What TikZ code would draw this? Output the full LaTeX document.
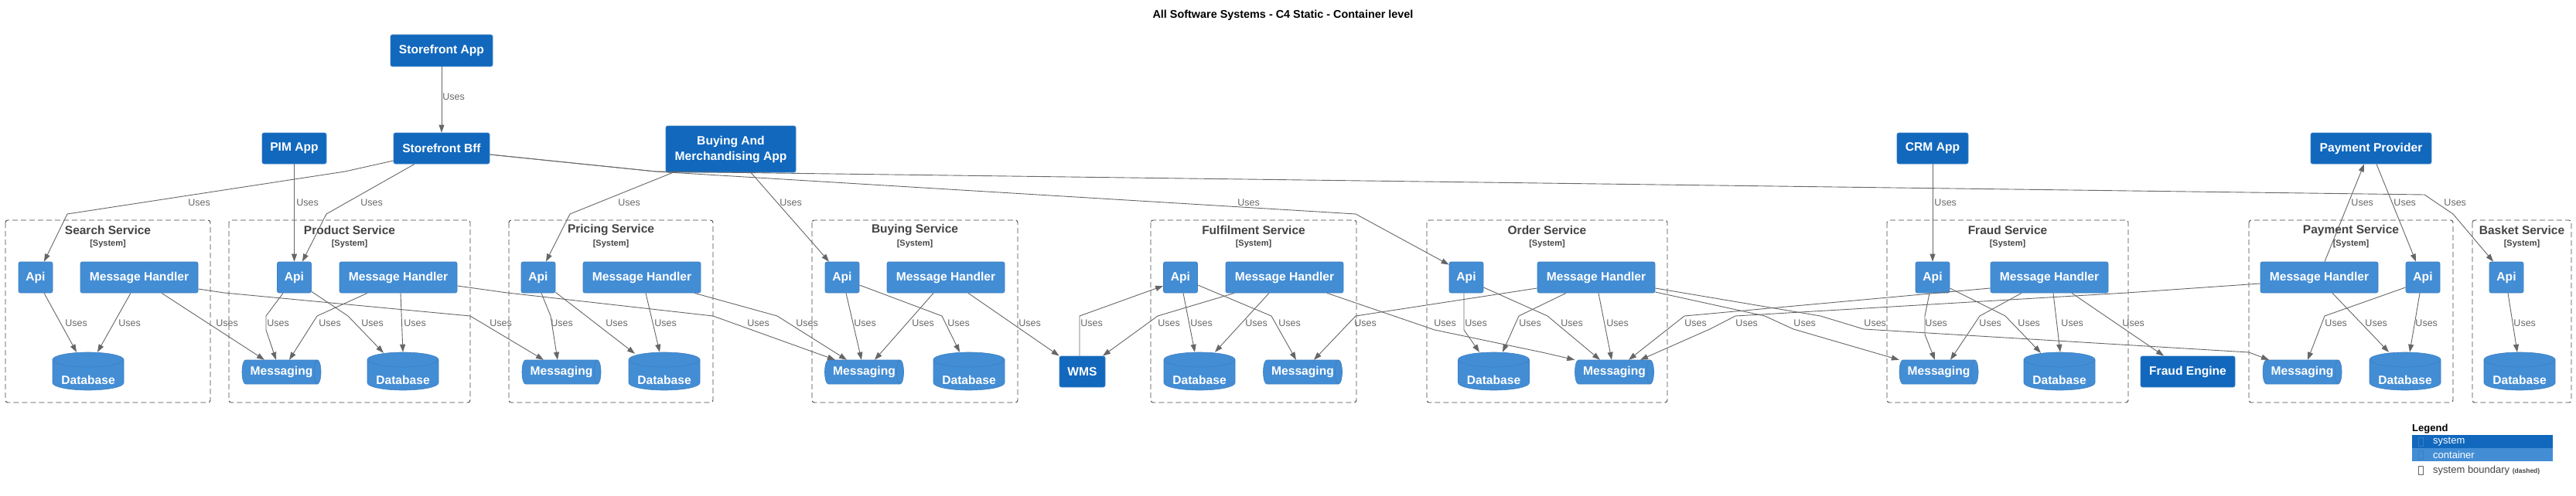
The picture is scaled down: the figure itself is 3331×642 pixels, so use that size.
\documentclass[tikz,border=0pt]{standalone}
\usepackage{fontspec}
\setmainfont{Liberation Sans}
\usetikzlibrary{arrows.meta}
\definecolor{sysblue}{HTML}{1168BD}
\definecolor{ctrblue}{HTML}{438DD5}
\definecolor{edge}{HTML}{3C7FC0}
\definecolor{wire}{HTML}{666666}
\definecolor{frame}{HTML}{444444}
\newcommand{\boxfont}{\bfseries\fontsize{15.6}{18}\selectfont}
\newcommand{\labfont}{\fontsize{12.5}{14}\selectfont}
% database cylinder, centre x
\newcommand{\dbshape}[1]{%
  \filldraw[fill=ctrblue, draw=edge, line width=0.6pt] (#1-46,465.5) -- (#1-46,495.5)
    .. controls (#1-46,500.8) and (#1-25.4,505) .. (#1,505)
    .. controls (#1+25.4,505) and (#1+46,500.8) .. (#1+46,495.5)
    -- (#1+46,465.5)
    .. controls (#1+46,460.3) and (#1+25.4,456) .. (#1,456)
    .. controls (#1-25.4,456) and (#1-46,460.3) .. (#1-46,465.5) -- cycle;
  \draw[edge, line width=0.6pt] (#1-46,465.5) .. controls (#1-46,470.7) and (#1-25.4,475) .. (#1,475)
    .. controls (#1+25.4,475) and (#1+46,470.7) .. (#1+46,465.5);
}
% message queue, centre x
\newcommand{\mqshape}[1]{%
  \filldraw[fill=ctrblue, draw=edge, line width=0.6pt] (#1-46.5,466) -- (#1+46.5,466)
    .. controls (#1+49,466) and (#1+51,472.9) .. (#1+51,481.5)
    .. controls (#1+51,490.1) and (#1+49,497) .. (#1+46.5,497)
    -- (#1-46.5,497)
    .. controls (#1-49,497) and (#1-51,490.1) .. (#1-51,481.5)
    .. controls (#1-51,472.9) and (#1-49,466) .. (#1-46.5,466) -- cycle;
  \draw[edge, line width=0.6pt] (#1+46.5,466) .. controls (#1+44,466) and (#1+42,472.9) .. (#1+42,481.5)
    .. controls (#1+42,490.1) and (#1+44,497) .. (#1+46.5,497);
}
\tikzset{
  sys/.style={fill=sysblue, draw=edge, line width=0.8pt, rounded corners=2.5pt, text=white, font=\boxfont, inner sep=0pt, minimum height=40pt},
  ctr/.style={fill=ctrblue, draw=edge, line width=0.8pt, rounded corners=2.5pt, text=white, font=\boxfont, inner sep=0pt, minimum height=40pt},
  api/.style={ctr, minimum width=44pt},
  hdl/.style={ctr, minimum width=152pt},
  dbtxt/.style={text=white, font=\boxfont, inner sep=0pt, minimum width=92pt, minimum height=49pt, text height=34pt, text depth=0pt},
  mqtxt/.style={text=white, font=\boxfont, inner sep=0pt, minimum width=102pt, minimum height=31pt},
  bnd/.style={draw=frame, line width=0.9pt, dash pattern=on 7pt off 4pt, rounded corners=3pt},
  bttl/.style={text=frame, font=\bfseries\fontsize{15.5}{18}\selectfont, inner sep=0pt},
  bsys/.style={text=frame, font=\bfseries\fontsize{11}{13}\selectfont, inner sep=0pt},
  use/.style={draw=wire, line width=0.9pt, -{Triangle[length=10pt,width=7pt]}},
  lab/.style={text=wire, font=\labfont, anchor=west, inner sep=0pt},
  legtxt/.style={font=\fontsize{13}{15}\selectfont, anchor=west, inner sep=0pt},
}
\begin{document}
\begin{tikzpicture}[x=1pt,y=-1pt]
  \useasboundingbox (0,0) rectangle (3331,642);
  \node[font=\bfseries\fontsize{14.4}{17}\selectfont] (title) at (1659,20) {All Software Systems - C4 Static - Container level};

  % system boundaries
  \draw[bnd] (7,285) rectangle (272,521);
  \draw[bnd] (296,285) rectangle (608,521);
  \draw[bnd] (658,285) rectangle (922,521);
  \draw[bnd] (1050,285) rectangle (1316,521);
  \draw[bnd] (1488,285) rectangle (1754,521);
  \draw[bnd] (1845,285) rectangle (2156,521);
  \draw[bnd] (2440,285) rectangle (2752,521);
  \draw[bnd] (2908,285) rectangle (3172,521);
  \draw[bnd] (3197,285) rectangle (3325,521);
  \node[bttl] (searchT) at (139.5,298) {Search Service};
  \node[bsys] (searchS) at (139.5,316) {[System]};
  \node[bttl] (productT) at (452,298) {Product Service};
  \node[bsys] (productS) at (452,316) {[System]};
  \node[bttl] (pricingT) at (790,298) {Pricing Service};
  \node[bsys] (pricingS) at (790,316) {[System]};
  \node[bttl] (buyingT) at (1183,298) {Buying Service};
  \node[bsys] (buyingS) at (1183,316) {[System]};
  \node[bttl] (fulfilT) at (1621,298) {Fulfilment Service};
  \node[bsys] (fulfilS) at (1621,316) {[System]};
  \node[bttl] (orderT) at (2000.5,298) {Order Service};
  \node[bsys] (orderS) at (2000.5,316) {[System]};
  \node[bttl] (fraudT) at (2596,298) {Fraud Service};
  \node[bsys] (fraudS) at (2596,316) {[System]};
  \node[bttl] (paymentT) at (3040,298) {Payment Service};
  \node[bsys] (paymentS) at (3040,316) {[System]};
  \node[bttl] (basketT) at (3261,298) {Basket Service};
  \node[bsys] (basketS) at (3261,316) {[System]};

  % external systems
  \node[sys, minimum width=132pt, minimum height=41pt] (sfapp) at (571,65.5) {Storefront App};
  \node[sys, minimum width=83pt] (pim) at (380.5,192) {PIM App};
  \node[sys, minimum width=124pt] (bff) at (571,192) {Storefront Bff};
  \node[sys, minimum width=168pt, minimum height=60pt, align=center] (bma) at (945,193) {Buying And\\[2pt]Merchandising App};
  \node[sys, minimum width=92pt] (crm) at (2499,192) {CRM App};
  \node[sys, minimum width=156pt] (pprov) at (3066,192) {Payment Provider};
  \node[sys, minimum width=59pt] (wms) at (1399.5,481) {WMS};
  \node[sys, minimum width=122pt] (feng) at (2829,481) {Fraud Engine};

  % containers
  \node[api] (sapi) at (46,359) {Api};
  \node[hdl] (smh) at (180,359) {Message Handler};
  \dbshape{114} \node[dbtxt] (sdb) at (114,480.5) {Database};

  \node[api] (papi) at (380.5,359) {Api};
  \node[hdl] (pmh) at (515,359) {Message Handler};
  \mqshape{364} \node[mqtxt] (pmsg) at (364,481.5) {Messaging};
  \dbshape{521} \node[dbtxt] (pdb) at (521,480.5) {Database};

  \node[api] (prapi) at (696,359) {Api};
  \node[hdl] (prmh) at (830,359) {Message Handler};
  \mqshape{726} \node[mqtxt] (prmsg) at (726,481.5) {Messaging};
  \dbshape{859} \node[dbtxt] (prdb) at (859,480.5) {Database};

  \node[api] (bapi) at (1089,359) {Api};
  \node[hdl] (bmh) at (1223,359) {Message Handler};
  \mqshape{1117.5} \node[mqtxt] (bmsg) at (1117.5,481.5) {Messaging};
  \dbshape{1253} \node[dbtxt] (bdb) at (1253,480.5) {Database};

  \node[api] (fapi) at (1526.5,359) {Api};
  \node[hdl] (fmh) at (1661,359) {Message Handler};
  \dbshape{1551} \node[dbtxt] (fdb) at (1551,480.5) {Database};
  \mqshape{1684.5} \node[mqtxt] (fmsg) at (1684.5,481.5) {Messaging};

  \node[api] (oapi) at (1896,359) {Api};
  \node[hdl] (omh) at (2064,359) {Message Handler};
  \dbshape{1931.5} \node[dbtxt] (odb) at (1931.5,480.5) {Database};
  \mqshape{2087.5} \node[mqtxt] (omsg) at (2087.5,481.5) {Messaging};

  \node[api] (frapi) at (2499,359) {Api};
  \node[hdl] (frmh) at (2650,359) {Message Handler};
  \mqshape{2507} \node[mqtxt] (frmsg) at (2507,481.5) {Messaging};
  \dbshape{2663} \node[dbtxt] (frdb) at (2663,480.5) {Database};

  \node[hdl] (paymh) at (2999,359) {Message Handler};
  \node[api] (payapi) at (3133,359) {Api};
  \mqshape{2977} \node[mqtxt] (paymsg) at (2977,481.5) {Messaging};
  \dbshape{3110} \node[dbtxt] (paydb) at (3110,480.5) {Database};

  \node[api] (baapi) at (3241,359) {Api};
  \dbshape{3258} \node[dbtxt] (badb) at (3258,480.5) {Database};

  % upper relations
  \draw[use] (sfapp.south) -- (bff.north) node[lab] (u1) at (572,125) {Uses};
  \draw[use] ([yshift=-16pt]bff.west) -- (446,222) -- (87,277) -- ([xshift=11pt]sapi.north) node[lab] (u2) at (243,262) {Uses};
  \draw[use] (pim.south) -- (papi.north) node[lab] (u3) at (383,262) {Uses};
  \draw[use] ([xshift=-35pt]bff.south) -- (422,277) -- ([xshift=10.5pt]papi.north) node[lab] (u4) at (466,262) {Uses};
  \draw[use] ([yshift=-8pt]bff.east) -- (848,222) -- (3135,252) -- (3172,277) -- ([xshift=-17pt]baapi.north) node[lab] (u5) at (3160,262) {Uses};
  \draw[use] ([yshift=-8pt]bff.east) -- (848,222) -- (1753,277) -- ([yshift=-4pt]oapi.north west) node[lab] (u6) at (1600,262) {Uses};
  \draw[use] ([xshift=-75pt]bma.south) -- (737,277) -- ([xshift=10pt]prapi.north) node[lab] (u7) at (799,262) {Uses};
  \draw[use] ([xshift=26pt]bma.south) -- ([xshift=-17pt]bapi.north) node[lab] (u8) at (1008,262) {Uses};
  \draw[use] (crm.south) -- (frapi.north) node[lab] (u9) at (2501,262) {Uses};
  \draw[use] ([xshift=7pt]paymh.north) -- ([xshift=-9pt]pprov.south) node[lab] (u10) at (3040,262) {Uses};
  \draw[use] ([xshift=7pt]pprov.south) -- ([xshift=-9pt]payapi.north) node[lab] (u11) at (3095,262) {Uses};

  % lower relations
  \draw[use] ([xshift=11pt]sapi.south) -- ([xshift=-15pt]sdb.north) node[lab] (u12) at (84,418) {Uses};
  \draw[use] ([xshift=-11pt]smh.south) -- ([xshift=12pt]sdb.north) node[lab] (u13) at (153,418) {Uses};
  \draw[use] ([xshift=29pt]smh.south) -- ([xshift=-22pt]pmsg.north) node[lab] (u14) at (279,418) {Uses};
  \draw[use] ([yshift=-15pt]smh.east) -- (290,379) -- (608,409) -- ([xshift=-23pt]prmsg.north) node[lab] (u15) at (633,418) {Uses};
  \draw[use] ([xshift=-14.5pt]papi.south) -- (344,409) -- (344,427) -- ([xshift=-7pt]pmsg.north) node[lab] (u16) at (345,418) {Uses};
  \draw[use] ([yshift=2pt]papi.south east) -- (450,409) -- ([xshift=-25pt,yshift=-1pt]pdb.north) node[lab] (u17) at (467,418) {Uses};
  \draw[use] ([xshift=-40pt]pmh.south) -- (410,409) -- ([xshift=10pt]pmsg.north) node[lab] (u18) at (412,418) {Uses};
  \draw[use] ([xshift=3pt]pmh.south) -- (pdb.north) node[lab] (u19) at (522,418) {Uses};
  \draw[use] ([yshift=-11pt]pmh.east) -- (656,379) -- (922,409) -- ([xshift=-37.5pt]bmsg.north) node[lab] (u20) at (966,418) {Uses};
  \draw[use] ([xshift=4pt]prapi.south) -- (712,409) -- ([xshift=-5pt]prmsg.north) node[lab] (u21) at (712,418) {Uses};
  \draw[use] ([yshift=1pt]prapi.south east) -- ([xshift=-38pt,yshift=-2pt]prdb.north) node[lab] (u22) at (783,418) {Uses};
  \draw[use] ([xshift=5pt]prmh.south) -- ([xshift=-6pt]prdb.north) node[lab] (u23) at (846,418) {Uses};
  \draw[use] ([xshift=68pt]prmh.south) -- (1005,409) -- ([xshift=-22.5pt]bmsg.north) node[lab] (u24) at (1029,418) {Uses};
  \draw[use] ([xshift=5pt]bapi.south) -- ([xshift=-3.5pt]bmsg.north) node[lab] (u25) at (1104,418) {Uses};
  \draw[use] ([yshift=-10pt]bapi.east) -- (1218,409) -- ([xshift=-12pt]bdb.north) node[lab] (u26) at (1225,418) {Uses};
  \draw[use] ([xshift=-16pt]bmh.south) -- ([xshift=13.5pt]bmsg.north) node[lab] (u27) at (1179,418) {Uses};
  \draw[use] ([xshift=29pt]bmh.south) -- (wms.north west) node[lab] (u28) at (1317,418) {Uses};
  \draw[use] ([xshift=-3.5pt]wms.north) -- (1396,409) -- ([yshift=-11pt]fapi.west) node[lab] (u29) at (1397,418) {Uses};
  \draw[use] ([xshift=-65pt]fmh.south) -- (1497,409) -- ([xshift=26.5pt]wms.north) node[lab] (u30) at (1497,418) {Uses};
  \draw[use] ([xshift=3.5pt]fapi.south) -- ([xshift=-6pt]fdb.north) node[lab] (u31) at (1539,418) {Uses};
  \draw[use] ([xshift=-20pt]fmh.south) -- ([xshift=20pt]fdb.north) node[lab] (u32) at (1610,418) {Uses};
  \draw[use] ([yshift=-10pt]fapi.east) -- (1644,409) -- ([xshift=-8.5pt]fmsg.north) node[lab] (u33) at (1653,418) {Uses};
  \draw[use] ([xshift=55pt]fmh.south) -- (1855,427) -- (1994,456) -- (omsg.north west) node[lab] (u34) at (1854,418) {Uses};
  \draw[use] ([yshift=-14pt]omh.west) -- (1753,409) -- ([xshift=14.5pt]fmsg.north) node[lab] (u35) at (1751,418) {Uses};
  \draw[use] ([xshift=-3pt]oapi.south) -- (1893,427) -- ([xshift=-18.5pt]odb.north) node[lab] (u36) at (1894,418) {Uses};
  \draw[use] ([yshift=-13pt]oapi.east) -- (2001,409) -- ([xshift=-18.5pt]omsg.north) node[lab] (u37) at (2018,418) {Uses};
  \draw[use] ([xshift=-39pt]omh.south) -- (1964,409) -- ([xshift=11.5pt]odb.north) node[lab] (u38) at (1964,418) {Uses};
  \draw[use] ([xshift=3pt]omh.south) -- ([xshift=-3.5pt]omsg.north) node[lab] (u39) at (2077,418) {Uses};
  \draw[use] ([yshift=-19pt]omh.east) -- (2282,409) -- (2319,426) -- (frmsg.north west) node[lab] (u40) at (2319,418) {Uses};
  \draw[use] ([yshift=-14pt]omh.east) -- (2354,409) -- (2410,426) -- (2908,456) -- ([xshift=-43pt]paymsg.north) node[lab] (u41) at (2410,418) {Uses};
  \draw[use] ([yshift=-14pt]frmh.west) -- (2178,409) -- ([xshift=18.5pt]omsg.north) node[lab] (u42) at (2178,418) {Uses};
  \draw[use] ([yshift=-8pt]paymh.west) -- (2750,379) -- (2244,409) -- (2211,426) -- ([xshift=33.5pt]omsg.north) node[lab] (u43) at (2244,418) {Uses};
  \draw[use] ([xshift=-4pt]frapi.south) -- (2489,409) -- (2489,433) -- ([xshift=-5pt]frmsg.north) node[lab] (u44) at (2489,418) {Uses};
  \draw[use] ([yshift=-14pt]frapi.east) -- (2593,409) -- ([xshift=-24pt,yshift=-1pt]frdb.north) node[lab] (u45) at (2609,418) {Uses};
  \draw[use] ([xshift=-36pt]frmh.south) -- (2560,409) -- ([xshift=15pt]frmsg.north) node[lab] (u46) at (2559,418) {Uses};
  \draw[use] ([xshift=5pt]frmh.south) -- ([xshift=1pt]frdb.north) node[lab] (u47) at (2665,418) {Uses};
  \draw[use] ([xshift=29pt]frmh.south) -- ([xshift=-31pt]feng.north) node[lab] (u48) at (2744,418) {Uses};
  \draw[use] ([yshift=-13pt]payapi.west) -- (3006,409) -- ([xshift=7pt]paymsg.north) node[lab] (u49) at (3006,418) {Uses};
  \draw[use] ([xshift=17pt]paymh.south) -- ([xshift=-21pt]paydb.north) node[lab] (u50) at (3058,418) {Uses};
  \draw[use] ([xshift=-4pt]payapi.south) -- ([xshift=6pt]paydb.north) node[lab] (u51) at (3123,418) {Uses};
  \draw[use] ([xshift=2pt]baapi.south) -- ([xshift=-3pt]badb.north) node[lab] (u52) at (3250,418) {Uses};

  % legend
  \node[legtxt, font=\bfseries\fontsize{13}{15}\selectfont] (lgd) at (3119,555) {Legend};
  \fill[sysblue] (3119,563) rectangle (3301,580);
  \fill[ctrblue] (3119,580) rectangle (3301,597);
  \draw[edge] (3127.5,566.5) rectangle (3133.5,577.5);
  \draw[edge] (3127.5,583.5) rectangle (3133.5,594.5);
  \draw[wire] (3127.5,603.5) rectangle (3133.5,614.5);
  \node[legtxt, text=white] (lsys) at (3146,571.5) {system};
  \node[legtxt, text=white] (lctr) at (3146,588.5) {container};
  \node[legtxt, text=frame] (lbnd) at (3146,609) {system boundary {\bfseries\fontsize{8.5}{10}\selectfont (dashed)}};
\end{tikzpicture}
\end{document}
